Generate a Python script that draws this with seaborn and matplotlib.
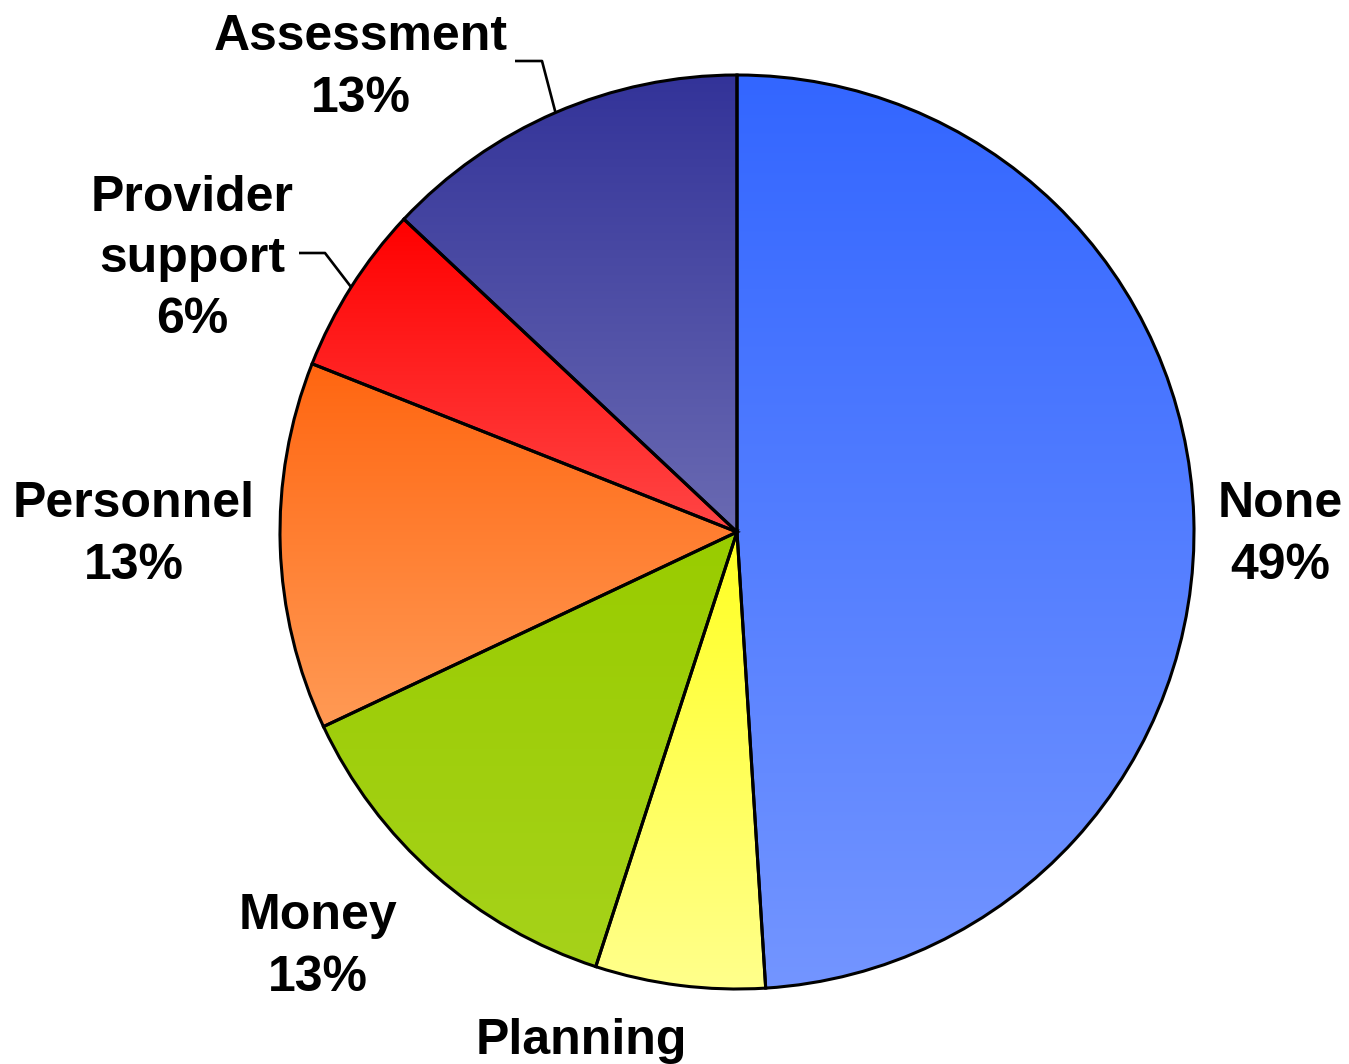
import numpy as np
import matplotlib
matplotlib.use("Agg")
import matplotlib.pyplot as plt
import seaborn as sns
from matplotlib.colors import to_rgb

# Slice data, listed clockwise from 12 o'clock
categories = ["None", "Planning", "Money", "Personnel", "Provider\nsupport", "Assessment"]
shares = [49, 6, 13, 13, 6, 13]
top_colors = ["#3366FF", "#FFFF22", "#99CC00", "#FF6611", "#FF0000", "#333399"]
bottom_colors = ["#7395FF", "#FFFF8C", "#A6D21A", "#FF9A55", "#FF4646", "#6A6AB2"]

sns.set_theme(style="white")
plt.rcParams["font.family"] = ["Liberation Sans", "DejaVu Sans"]

W, H = 1349, 1064
fig = plt.figure(figsize=(W / 100, H / 100), dpi=100)
ax = fig.add_axes([0, 0, 1, 1])


def px(x, y):
    """Convert pixel position (origin top-left) to axes data units."""
    return x, H - y


cx, cy = px(737, 532)
R = 457

wedges, _ = ax.pie(
    shares,
    startangle=90,
    counterclock=False,
    center=(cx, cy),
    radius=R,
    wedgeprops=dict(edgecolor="black", linewidth=2.2),
)

# Vertical gradient fill for each wedge, clipped to the wedge outline
t = np.linspace(0, 1, 256)[:, None, None]
for w, c0, c1 in zip(wedges, top_colors, bottom_colors):
    verts = w.get_path().vertices
    x0, x1 = verts[:, 0].min(), verts[:, 0].max()
    y0, y1 = verts[:, 1].min(), verts[:, 1].max()
    grad = np.array(to_rgb(c0))[None, None, :] * (1 - t) + np.array(to_rgb(c1))[None, None, :] * t
    im = ax.imshow(grad, extent=(x0, x1, y0, y1), origin="upper",
                   aspect="auto", interpolation="bilinear", zorder=1.5)
    im.set_clip_path(w)
    w.set_facecolor("none")
    w.set_zorder(2)

ax.set_xlim(0, W)
ax.set_ylim(0, H)
ax.set_aspect("equal")
ax.set_axis_off()

# Label block centres (pixels)
label_pos = {
    "None": (1280, 535),
    "Planning": (581, 1072),
    "Money": (318, 947),
    "Personnel": (134, 535),
    "Provider\nsupport": (192, 259),
    "Assessment": (361, 68),
}
for cat, v in zip(categories, shares):
    x, y = px(*label_pos[cat])
    ax.text(x, y, f"{cat}\n{v}%", ha="center", va="center", multialignment="center",
            fontsize=36, fontweight="bold", color="black", linespacing=1.42, zorder=3)

# Leader lines from label to wedge mid-angle on the rim
leaders = {
    "Assessment": ((515, 61), (542, 61)),
    "Provider\nsupport": ((299, 253), (325, 253)),
}
for cat, (start, elbow) in leaders.items():
    w = wedges[categories.index(cat)]
    theta = np.deg2rad((w.theta1 + w.theta2) / 2)
    ex, ey = cx + R * np.cos(theta), cy + R * np.sin(theta)
    sx, sy = px(*start)
    bx, by = px(*elbow)
    ax.plot([sx, bx, ex], [sy, by, ey], color="black", lw=1.9, zorder=3,
            solid_capstyle="butt")

fig.savefig("out.png", dpi=100, facecolor="white")
